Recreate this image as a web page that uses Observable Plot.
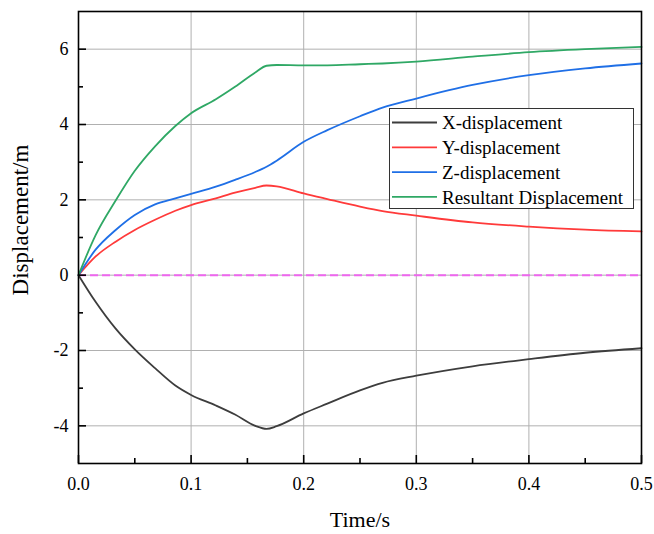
<!DOCTYPE html>
<html><head><meta charset="utf-8">
<script src="https://cdn.jsdelivr.net/npm/d3@7"></script>
<script src="https://cdn.jsdelivr.net/npm/@observablehq/plot@0.6"></script>
<style>body{margin:0;background:#fff;} svg{display:block}</style>
</head><body><div id="chart"></div><script>
// ---- data ----
const time = [0, 0.015, 0.033, 0.05, 0.068, 0.086, 0.1, 0.122, 0.139, 0.157, 0.167, 0.176, 0.2, 0.221, 0.25, 0.27, 0.3, 0.35, 0.4, 0.45, 0.5];
const xDisp = [0, -0.70, -1.42, -1.97, -2.47, -2.93, -3.18, -3.46, -3.70, -4.00, -4.08, -4.01, -3.67, -3.41, -3.06, -2.86, -2.67, -2.42, -2.23, -2.06, -1.94];
const yDisp = [0, 0.49, 0.89, 1.20, 1.47, 1.71, 1.86, 2.04, 2.19, 2.32, 2.38, 2.36, 2.17, 2.02, 1.82, 1.70, 1.58, 1.40, 1.29, 1.21, 1.16];
const zDisp = [0, 0.67, 1.20, 1.60, 1.88, 2.04, 2.16, 2.35, 2.53, 2.74, 2.88, 3.04, 3.54, 3.85, 4.22, 4.45, 4.69, 5.05, 5.31, 5.49, 5.62];
const rDisp = [0, 1.05, 1.98, 2.77, 3.42, 3.96, 4.30, 4.67, 5.00, 5.38, 5.56, 5.58, 5.57, 5.57, 5.60, 5.62, 5.67, 5.80, 5.92, 6.00, 6.06];
const seriesNames = ["X-displacement", "Y-displacement", "Z-displacement", "Resultant Displacement"];
const seriesColors = ["#3d3d3d", "#ff3a3a", "#1f6fe6", "#2fa865"];
const xDomain = [0, 0.5];
const yDomain = [-5, 7];
const xTicks = [0, 0.1, 0.2, 0.3, 0.4, 0.5];
const xMinor = [0.05, 0.15, 0.25, 0.35, 0.45];
const yTicks = [-4, -2, 0, 2, 4, 6];
const yMinor = [-3, -1, 1, 3, 5];
const xLabel = "Time/s";
const yLabel = "Displacement/m";

const seriesValues = [xDisp, yDisp, zDisp, rDisp];
const rows = seriesNames.flatMap((name, s) => time.map((t, i) => ({t, v: seriesValues[s][i], name})));

const FONT = "'Liberation Serif', 'Times New Roman', serif";
const W = 654, H = 534;
const mL = 78, mR = 13, mT = 11, mB = 71;

const chart = Plot.plot({
  width: W, height: H,
  marginLeft: mL, marginRight: mR, marginTop: mT, marginBottom: mB,
  style: {fontFamily: FONT, background: "#fff", color: "#000"},
  x: {domain: xDomain},
  y: {domain: yDomain},
  color: {domain: seriesNames, range: seriesColors},
  marks: [
    Plot.gridX(xTicks, {stroke: "#b0b0b0", strokeOpacity: 1, strokeWidth: 1}),
    Plot.gridY(yTicks, {stroke: "#b0b0b0", strokeOpacity: 1, strokeWidth: 1}),
    Plot.ruleY([0], {stroke: "#ee66ee", strokeWidth: 2, strokeDasharray: "8,4"}),
    Plot.line(rows, {x: "t", y: "v", z: "name", stroke: "name", strokeWidth: 1.8, curve: "monotone-x"}),
    Plot.frame({stroke: "#000", strokeWidth: 1.6}),
    // inward ticks on left axis
    Plot.ruleY(yTicks, {y: d => d, x1: xDomain[0], x2: xDomain[0], insetRight: -8, stroke: "#000", strokeWidth: 1.6}),
    Plot.ruleY(yMinor, {y: d => d, x1: xDomain[0], x2: xDomain[0], insetRight: -5, stroke: "#000", strokeWidth: 1.6}),
    // inward ticks on bottom axis
    Plot.ruleX(xTicks, {x: d => d, y1: yDomain[0], y2: yDomain[0], insetBottom: 8, stroke: "#000", strokeWidth: 1.6}),
    Plot.ruleX(xMinor, {x: d => d, y1: yDomain[0], y2: yDomain[0], insetBottom: 5, stroke: "#000", strokeWidth: 1.6}),
    Plot.axisX(xTicks, {tickSize: 0, tickPadding: 14, fontSize: 18, fontFamily: FONT, fill: "#000", tickFormat: d => d.toFixed(1), label: null}),
    Plot.axisY(yTicks, {tickSize: 0, tickPadding: 10, fontSize: 18, fontFamily: FONT, fill: "#000", tickFormat: d => String(d), label: null})
  ]
});

const svg = d3.select(chart);
svg.append("text")
  .attr("x", 360).attr("y", 527)
  .attr("text-anchor", "middle")
  .attr("font-family", FONT).attr("font-size", 22).attr("fill", "#000")
  .text(xLabel);
svg.append("text")
  .attr("transform", "translate(28,220) rotate(-90)")
  .attr("text-anchor", "middle")
  .attr("font-family", FONT).attr("font-size", 23).attr("fill", "#000")
  .text(yLabel);

// legend
const lg = svg.append("g");
lg.append("rect").attr("x", 389.5).attr("y", 108.5).attr("width", 244).attr("height", 100)
  .attr("fill", "#fff").attr("stroke", "#333").attr("stroke-width", 1);
seriesNames.forEach((name, i) => {
  const cy = 122.5 + i * 24.8;
  lg.append("line").attr("x1", 392).attr("x2", 437).attr("y1", cy).attr("y2", cy)
    .attr("stroke", seriesColors[i]).attr("stroke-width", 1.8);
  lg.append("text").attr("x", 442).attr("y", cy).attr("dy", "0.35em")
    .attr("text-anchor", "start")
    .attr("font-family", FONT).attr("font-size", 19).attr("fill", "#000")
    .text(name);
});

document.getElementById("chart").appendChild(chart);
</script></body></html>
